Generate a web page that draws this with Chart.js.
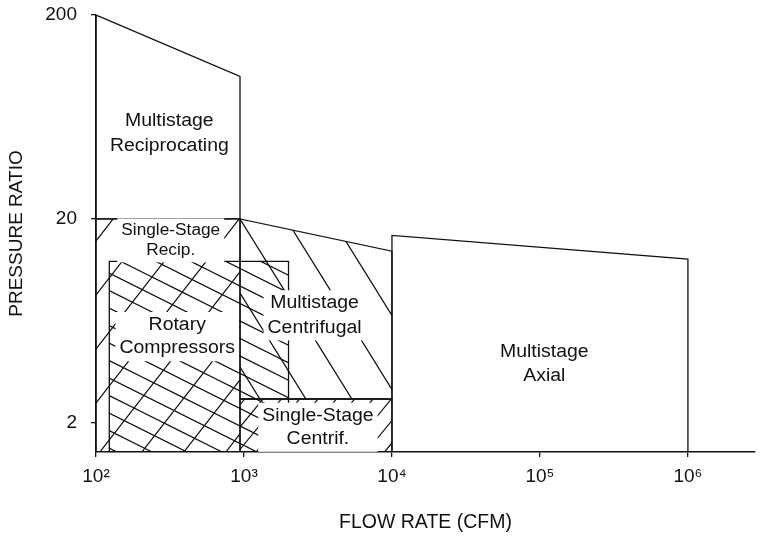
<!DOCTYPE html>
<html>
<head>
<meta charset="utf-8">
<title>Compressor application ranges</title>
<script src="https://cdn.jsdelivr.net/npm/chart.js@4.4.0/dist/chart.umd.min.js"></script>
<style>
  html, body { margin: 0; padding: 0; background: #fff; }
  #wrap { width: 772px; height: 545px; }
</style>
</head>
<body>
<div id="wrap"><canvas id="chart" width="772" height="545"></canvas></div>
<script>
// Axis ticks and ranges
const flowTicks = [1e2, 1e3, 1e4, 1e5, 1e6]
const flowTickLabels = ["10²", "10³", "10⁴", "10⁵", "10⁶"]
const ratioTicks = [2, 20, 200]
const flowMin = 100
const flowMax = 2.84e6
const ratioMin = 1.44
const ratioMax = 200

// Region outlines: flow rate (CFM) and pressure ratio at each corner
const multiRecipFlow = [100, 100, 940, 940, 100]
const multiRecipRatio = [20, 200, 100, 20, 20]
const singleRecipFlow = [100, 100, 940, 940, 100]
const singleRecipRatio = [1.44, 20, 20, 1.44, 1.44]
const rotaryFlow = [123, 123, 2000, 2000, 123]
const rotaryRatio = [1.44, 12.4, 12.4, 1.44, 1.44]
const multiCentFlow = [940, 940, 10000, 10000, 940]
const multiCentRatio = [2.62, 20, 13.9, 2.62, 2.62]
const singleCentFlow = [940, 940, 10000, 10000, 940]
const singleCentRatio = [1.44, 2.62, 2.62, 1.44, 1.44]
const axialFlow = [10000, 10000, 1e6, 1e6, 10000]
const axialRatio = [1.44, 16.6, 12.7, 1.44, 1.44]

// Region names, anchored at (flow, ratio) of the first text line
const regionLabels = [
  { lines: ["Multistage", "Reciprocating"], flow: 313, ratio: 57.1, size: 18, lead: 24.5 },
  { lines: ["Single-Stage", "Recip."], flow: 320, ratio: 16.7, size: 16, lead: 20 },
  { lines: ["Rotary", "Compressors"], flow: 354, ratio: 5.71, size: 18, lead: 23.5 },
  { lines: ["Multistage", "Centrifugal"], flow: 3000, ratio: 7.3, size: 18, lead: 24.4 },
  { lines: ["Single-Stage", "Centrif."], flow: 3160, ratio: 2.05, size: 18, lead: 23.3 },
  { lines: ["Multistage", "Axial"], flow: 1.07e5, ratio: 4.2, size: 18, lead: 23.7 },
]

const ink = "#111"
const fontFamily = '"Liberation Sans", Arial, Helvetica, sans-serif'
const stretch = 1.08

// Hatch pattern: n parallel lines in a w x h tile, "\" or "/"
function hatch(w, h, n, dir, ox, oy) {
  const c = document.createElement("canvas")
  c.width = w
  c.height = h
  const g = c.getContext("2d")
  g.strokeStyle = ink
  g.lineWidth = 1.2
  g.beginPath()
  for (let k = -3 * n; k <= 4 * n; k++) {
    const x0 = (k * w) / n
    if (dir === "\\") {
      g.moveTo(x0 - 2 * w, -2 * h)
      g.lineTo(x0 + 2 * w, 2 * h)
    } else {
      g.moveTo(x0 - 2 * w, 2 * h)
      g.lineTo(x0 + 2 * w, -2 * h)
    }
  }
  g.stroke()
  const p = g.createPattern(c, "repeat")
  p.setTransform(new DOMMatrix([1, 0, 0, 1, ox, oy]))
  return p
}

const recipHatch = hatch(42, 54, 1, "/", 96, 241)
const rotaryHatch = hatch(70, 35, 2, "\\", 109, 378)
const centHatch = hatch(46, 74, 1, "\\", 240, 219)
const singleCentHatch = hatch(55, 67, 3, "/", 373, 399)

function region(label, flows, ratios, pattern) {
  return {
    label: label,
    data: flows.map((f, i) => ({ x: f, y: ratios[i] })),
    showLine: true,
    borderColor: ink,
    borderWidth: 1.3,
    pointRadius: 0,
    pointHoverRadius: 0,
    tension: 0,
    fill: pattern ? "shape" : false,
    backgroundColor: pattern || "rgba(0,0,0,0)",
  }
}

// Labels sit on a white box that hides the hatching behind them
const regionLabelPlugin = {
  id: "regionLabels",
  afterDatasetsDraw(chart) {
    const ctx = chart.ctx
    const xs = chart.scales.x
    const ys = chart.scales.y
    regionLabels.forEach((lab) => {
      const cx = xs.getPixelForValue(lab.flow)
      const by = ys.getPixelForValue(lab.ratio)
      ctx.save()
      ctx.font = lab.size + "px " + fontFamily
      const w = Math.max(...lab.lines.map((t) => ctx.measureText(t).width * stretch))
      const cap = lab.size * 0.72
      const top = by - cap - 5
      const bottom = by + (lab.lines.length - 1) * lab.lead + lab.size * 0.21 + 4
      ctx.fillStyle = "#fff"
      ctx.fillRect(cx - w / 2 - 4, top, w + 8, bottom - top)
      ctx.fillStyle = ink
      ctx.textAlign = "center"
      ctx.textBaseline = "alphabetic"
      lab.lines.forEach((t, i) => {
        ctx.save()
        ctx.translate(cx, by + i * lab.lead)
        ctx.scale(stretch, 1)
        ctx.fillText(t, 0, 0)
        ctx.restore()
      })
      ctx.restore()
    })
  },
}

new Chart(document.getElementById("chart"), {
  type: "scatter",
  data: {
    datasets: [
      region("Multistage Reciprocating", multiRecipFlow, multiRecipRatio, null),
      region("Single-Stage Recip.", singleRecipFlow, singleRecipRatio, recipHatch),
      region("Rotary Compressors", rotaryFlow, rotaryRatio, rotaryHatch),
      region("Multistage Centrifugal", multiCentFlow, multiCentRatio, centHatch),
      region("Single-Stage Centrif.", singleCentFlow, singleCentRatio, singleCentHatch),
      region("Multistage Axial", axialFlow, axialRatio, null),
    ],
  },
  options: {
    responsive: false,
    animation: false,
    events: [],
    layout: { padding: { top: 15, right: 17, left: 0, bottom: 0 } },
    plugins: {
      legend: { display: false },
      tooltip: { enabled: false },
    },
    scales: {
      x: {
        type: "logarithmic",
        min: flowMin,
        max: flowMax,
        afterBuildTicks: (s) => {
          s.ticks = flowTicks.map((v) => ({ value: v }))
        },
        afterFit: (s) => {
          s.height = 93
          s.paddingLeft = 0
          s.paddingRight = 0
        },
        ticks: {
          callback: (v) => flowTickLabels[flowTicks.indexOf(v)],
          font: { family: fontFamily, size: 19 },
          color: ink,
          padding: 8,
          maxRotation: 0,
          autoSkip: false,
        },
        grid: { display: true, drawOnChartArea: false, drawTicks: true, tickLength: 5, color: ink, lineWidth: 1.3 },
        border: { display: true, color: ink, width: 1.5 },
        title: {
          display: true,
          text: "FLOW RATE (CFM)",
          color: ink,
          font: { family: fontFamily, size: 19.5 },
          padding: { top: 0, bottom: 11 },
        },
      },
      y: {
        type: "logarithmic",
        min: ratioMin,
        max: ratioMax,
        afterBuildTicks: (s) => {
          s.ticks = ratioTicks.map((v) => ({ value: v }))
        },
        afterFit: (s) => {
          s.width = 96
          s.paddingTop = 0
          s.paddingBottom = 0
        },
        ticks: {
          callback: (v) => String(v),
          font: { family: fontFamily, size: 19 },
          color: ink,
          padding: 14,
        },
        grid: { display: true, drawOnChartArea: false, drawTicks: true, tickLength: 5, color: ink, lineWidth: 1.3 },
        border: { display: true, color: ink, width: 1.5 },
        title: {
          display: true,
          text: "PRESSURE RATIO",
          color: ink,
          font: { family: fontFamily, size: 19 },
          padding: { top: 5, bottom: 0 },
        },
      },
    },
  },
  plugins: [regionLabelPlugin],
})
</script>
</body>
</html>
